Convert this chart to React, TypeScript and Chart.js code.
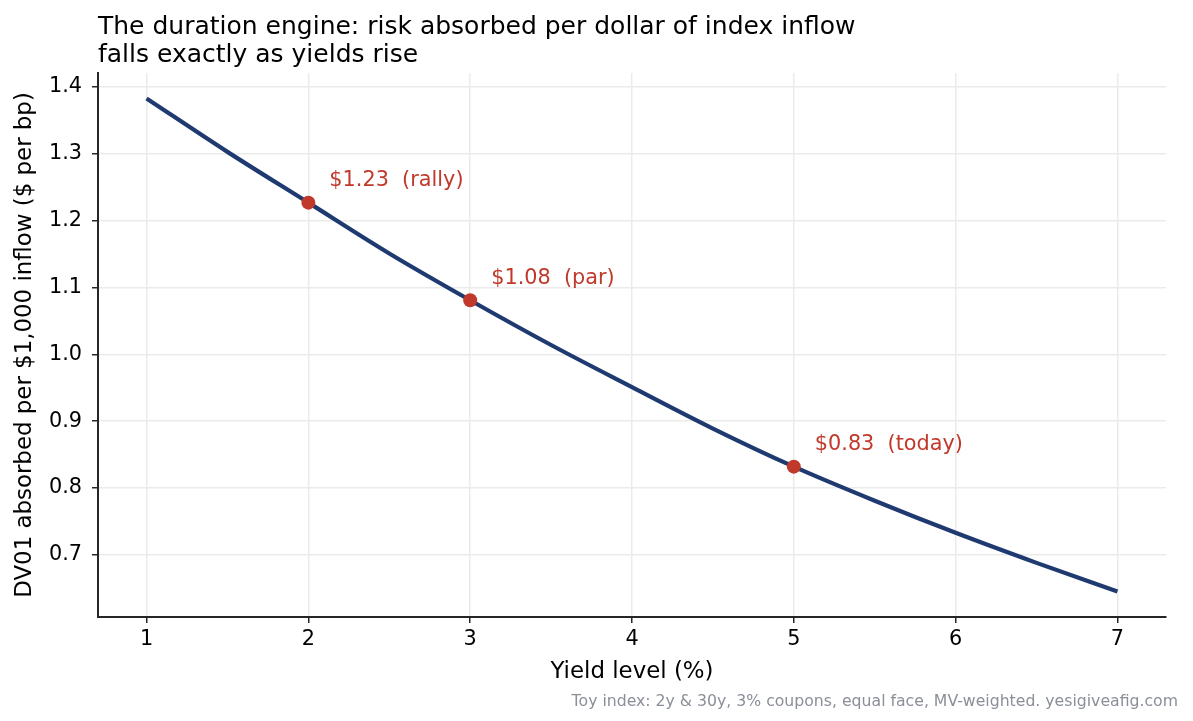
import { useEffect, useRef } from 'react'
import { Chart, registerables } from 'chart.js'

Chart.register(...registerables)

// DV01 curve (yield %, $ per bp per $1,000 inflow)
const yieldLevels = [1, 1.5, 2, 2.5, 3, 3.5, 4, 4.5, 5, 5.5, 6, 6.5, 7]
const dv01Values = [1.383, 1.303, 1.227, 1.151, 1.081, 1.014, 0.951, 0.889, 0.832, 0.781, 0.733, 0.688, 0.645]

// highlighted scenarios
const markerYields = [2, 3, 5]
const markerValues = [1.227, 1.081, 0.832]
const markerLabels = ['$1.23  (rally)', '$1.08  (par)', '$0.83  (today)']

const xTicks = [1, 2, 3, 4, 5, 6, 7]
const yTicks = [0.7, 0.8, 0.9, 1.0, 1.1, 1.2, 1.3, 1.4]

const titleLines = [
  'The duration engine: risk absorbed per dollar of index inflow',
  'falls exactly as yields rise',
]
const footer = 'Toy index: 2y & 30y, 3% coupons, equal face, MV-weighted. yesigiveafig.com'

const FONT = '"DejaVu Sans", sans-serif'
const NAVY = '#1f3a70'
const RED = '#c0392b'
const GRID = '#ebebeb'
const SPINE = '#262626'

const textPlugin = {
  id: 'textOverlay',
  afterDatasetsDraw(chart: Chart) {
    const { ctx, scales } = chart
    const x = scales.x
    const y = scales.y
    ctx.save()
    // point annotations
    ctx.font = `20.8px ${FONT}`
    ctx.fillStyle = RED
    ctx.textAlign = 'left'
    ctx.textBaseline = 'alphabetic'
    markerYields.forEach((v, i) => {
      const px = x.getPixelForValue(v)
      const py = y.getPixelForValue(markerValues[i])
      ctx.fillText(markerLabels[i], px + 21, py - 16.5)
    })
    // title
    ctx.fillStyle = '#000'
    ctx.font = `25px ${FONT}`
    ctx.fillText(titleLines[0], chart.chartArea.left, 34)
    ctx.fillText(titleLines[1], chart.chartArea.left, 61.5)
    // footer
    ctx.font = `15.7px ${FONT}`
    ctx.fillStyle = '#8a8f98'
    ctx.textAlign = 'right'
    ctx.fillText(footer, 1178, 706)
    ctx.restore()
  },
}

export default function App() {
  const canvasRef = useRef<HTMLCanvasElement>(null)
  const chartRef = useRef<Chart | null>(null)

  useEffect(() => {
    if (!canvasRef.current) return
    if (chartRef.current) chartRef.current.destroy()

    const ctx = canvasRef.current.getContext('2d')
    if (!ctx) return

    chartRef.current = new Chart(ctx, {
      type: 'line',
      data: {
        datasets: [
          {
            label: 'markers',
            data: markerYields.map((v, i) => ({ x: v, y: markerValues[i] })),
            showLine: false,
            pointRadius: 7,
            pointBackgroundColor: RED,
            pointBorderColor: RED,
            pointBorderWidth: 0,
            order: 0,
          },
          {
            label: 'DV01',
            data: yieldLevels.map((v, i) => ({ x: v, y: dv01Values[i] })),
            borderColor: NAVY,
            borderWidth: 4.2,
            pointRadius: 0,
            cubicInterpolationMode: 'monotone',
            fill: false,
            order: 1,
          },
        ],
      },
      options: {
        responsive: false,
        animation: false,
        devicePixelRatio: 1,
        layout: { padding: { top: 73, right: 27, left: 0, bottom: 0 } },
        plugins: {
          legend: { display: false },
          tooltip: { enabled: false },
          title: { display: false },
        },
        scales: {
          x: {
            type: 'linear',
            min: 0.7,
            max: 7.3,
            afterBuildTicks: (s: any) => {
              s.ticks = xTicks.map((v) => ({ value: v }))
            },
            afterFit: (s: any) => {
              s.height = 104
            },
            grid: { color: GRID, lineWidth: 1.5, tickColor: SPINE, tickLength: 6, tickWidth: 1.5 },
            border: { color: SPINE, width: 2 },
            ticks: {
              color: '#000',
              font: { family: FONT, size: 20.8 },
              padding: 4,
              maxRotation: 0,
              callback: (v: any) => String(v),
            },
            title: {
              display: true,
              text: 'Yield level (%)',
              color: '#000',
              font: { family: FONT, size: 22.9 },
              padding: { top: 0, bottom: 35 },
            },
          },
          y: {
            type: 'linear',
            min: 0.607,
            max: 1.421,
            afterBuildTicks: (s: any) => {
              s.ticks = yTicks.map((v) => ({ value: v }))
            },
            afterFit: (s: any) => {
              s.width = 98
            },
            grid: { color: GRID, lineWidth: 1.5, tickColor: SPINE, tickLength: 6, tickWidth: 1.5 },
            border: { color: SPINE, width: 2 },
            ticks: {
              color: '#000',
              font: { family: FONT, size: 20.8 },
              padding: 10,
              callback: (v: any) => Number(v).toFixed(1),
            },
            title: {
              display: true,
              text: 'DV01 absorbed per $1,000 inflow ($ per bp)',
              color: '#000',
              font: { family: FONT, size: 22.9 },
              padding: { top: 11, bottom: 0 },
            },
          },
        },
      },
      plugins: [textPlugin],
    })

    return () => {
      if (chartRef.current) {
        chartRef.current.destroy()
        chartRef.current = null
      }
    }
  }, [])

  return (
    <div style={{ position: 'fixed', left: 0, top: 0, width: 1193, height: 721, background: '#fff' }}>
      <canvas ref={canvasRef} width={1193} height={721} style={{ width: 1193, height: 721 }} />
    </div>
  )
}
